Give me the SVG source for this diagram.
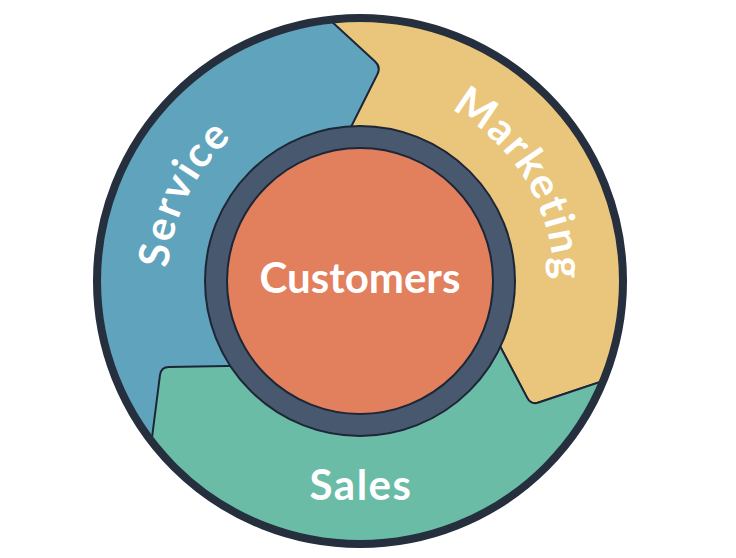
<svg xmlns="http://www.w3.org/2000/svg" width="736" height="558" viewBox="0 0 736 558">
  <style>
    .seg { stroke: #1d2636; stroke-width: 2; stroke-linejoin: round; }
    .lbl { font-family: Lato, "Open Sans", "Liberation Sans", sans-serif; font-weight: 700; font-size: 42px; fill: #ffffff; }
    .arc { letter-spacing: 2px; }
  </style>
  <defs>
    <clipPath id="outerClip">
      <circle cx="360" cy="281" r="264"/>
    </clipPath>
    <!-- Service arc: clockwise, r=192, centered at ~206 deg -->
    <path id="arcService" d="M 184.4 359 A 192 192 0 0 1 314.8 94.4" fill="none"/>
    <!-- Marketing arc: clockwise, r=194, centered at ~329 deg -->
    <path id="arcMarketing" d="M 390.3 89.4 A 194 194 0 0 1 543 344.3" fill="none"/>
  </defs>
  <rect width="736" height="558" fill="#ffffff"/>

  <g clip-path="url(#outerClip)">
    <g id="service">
      <circle cx="360" cy="281" r="264" fill="#5fa3bc"/>
    </g>
    <g id="marketing">
      <path class="seg" fill="#e9c67b" d="M 308.3 0 L 375.1 61.6 Q 381 67 377.4 74.2 L 340 149 L 360 281 L 490 327.2 L 527.2 397.9 Q 531 405 538.6 402.5 L 690 352 L 736 352 L 736 0 Z"/>
    </g>
    <g id="sales">
      <path class="seg" fill="#6abca6" d="M 690 352 L 538.6 402.5 Q 531 405 527.2 397.9 L 490 327.2 L 360 281 L 262 365.5 L 169 366.9 Q 161 367 160 374.9 L 136.7 558 L 736 558 L 736 352 Z"/>
    </g>
  </g>
  <circle cx="360" cy="281" r="263" fill="none" stroke="#262f3e" stroke-width="8"/>

  <g id="customers">
    <circle cx="360" cy="281" r="155" fill="#48596f" stroke="#1d2636" stroke-width="2"/>
    <circle cx="360" cy="281" r="133" fill="#e2805e" stroke="#1d2636" stroke-width="2"/>
    <text class="lbl" x="360" y="293" text-anchor="middle">Customers</text>
  </g>

  <g id="labels">
    <text class="lbl arc"><textPath href="#arcService" startOffset="50%" text-anchor="middle">Service</textPath></text>
    <text class="lbl arc"><textPath href="#arcMarketing" startOffset="50%" text-anchor="middle">Marketing</textPath></text>
    <text class="lbl" x="361" y="500" text-anchor="middle" font-size="44" letter-spacing="1.5">Sales</text>
  </g>
</svg>
